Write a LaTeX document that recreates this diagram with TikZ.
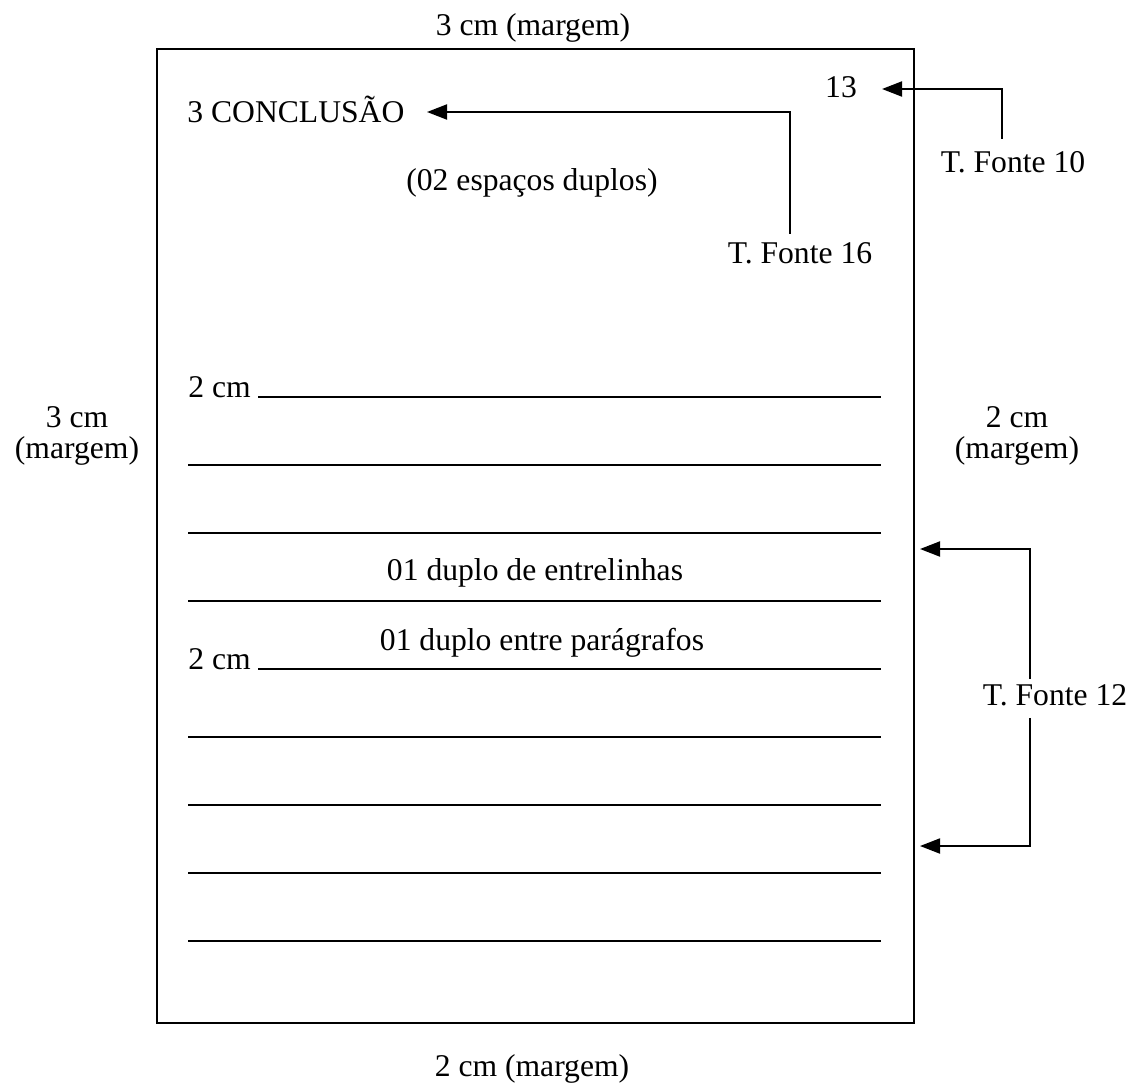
\documentclass[tikz,border=0pt]{standalone}
\usepackage{fontspec}
\setmainfont{Liberation Serif}
\usetikzlibrary{arrows.meta,positioning}
\tikzset{
    >={Triangle[length=4mm,width=3mm]},
    pagina/.style={draw, line width=1.2pt},
    linha/.style={draw, line width=1.2pt},
    seta/.style={draw, line width=1.1pt, ->},
    rotulo/.style={
        inner sep=0pt,
        anchor=base,
        font={\fontsize{18pt}{21pt}\selectfont}
    },
    margem/.style={
        inner sep=0pt,
        align=center,
        font={\fontsize{18pt}{18pt}\selectfont}
    },
}
\begin{document}
\begin{tikzpicture}[x=0.2mm,y=-0.2mm]
\useasboundingbox (0,0) rectangle (1132,1084);
% folha
\draw[pagina] (157,49) rectangle (914,1023);
% margens
\node[rotulo] (mtopo) at (533,36) {3 cm (margem)};
\node[rotulo] (mbase) at (532,1076) {2 cm (margem)};
\node[margem] (mesq) at (77,436) {3 cm\\(margem)};
\node[margem] (mdir) at (1017,436) {2 cm\\(margem)};
% titulo e paginacao
\node[rotulo, anchor=base west] (conclusao) at (187,122) {3 CONCLUSÃO};
\node[rotulo] (pag) at (841,97) {13};
\node[rotulo] (espacos) at (532,190) {(02 espaços duplos)};
\node[rotulo] (f16) at (800,263) {T. Fonte 16};
\node[rotulo] (f10) at (1013,172) {T. Fonte 10};
\node[rotulo] (f12) at (1055,705) {T. Fonte 12};
% pontas das setas
\coordinate (p16) at (427,112);
\coordinate (p10) at (882,89);
\coordinate (p12a) at (920,549);
\coordinate (p12b) at (920,846);
\draw[seta] (f16.north -| 790,0) ++(0,-8) |- (p16);
\draw[seta] (f10.north -| 1002,0) ++(0,-12) |- (p10);
\draw[seta] (f12.north -| 1030,0) ++(0,-5) |- (p12a);
\draw[seta] (f12.south -| 1030,0) ++(0,12) |- (p12b);
% linhas do texto
\node[rotulo, anchor=base west] (rec1) at (188,397) {2 cm};
\node[rotulo, anchor=base west] (rec2) at (188,669) {2 cm};
\draw[linha] ([xshift=4]rec1.base east) -- (881,397);
\draw[linha] ([xshift=4]rec2.base east) -- (881,669);
\foreach \y in {465,533,601,737,805,873,941}
    \draw[linha] (188,\y) -- (881,\y);
\node[rotulo] (entrelinhas) at (535,580) {01 duplo de entrelinhas};
\node[rotulo] (paragrafos) at (542,650) {01 duplo entre parágrafos};
\end{tikzpicture}
\end{document}
